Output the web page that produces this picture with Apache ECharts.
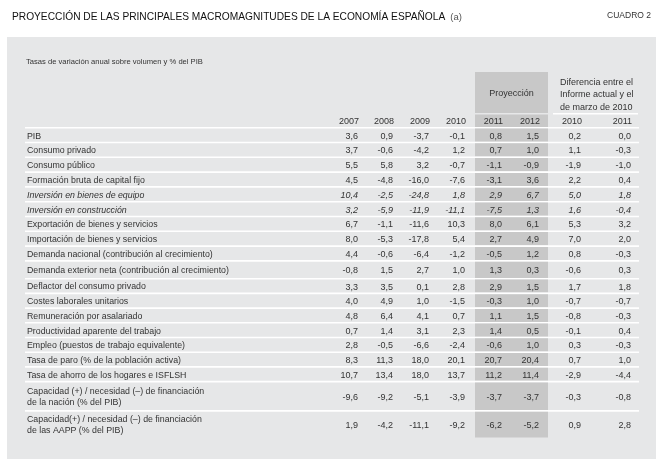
<!DOCTYPE html>
<html><head><meta charset="utf-8">
<script src="https://cdn.jsdelivr.net/npm/echarts@6/dist/echarts.min.js"></script>
<style>html,body{margin:0;padding:0;background:#fff}#c{width:656px;height:459px}</style>
</head><body><div id="c"></div>
<script>
// ---------------- DATA ----------------
const rowLabels = [
  'PIB',
  'Consumo privado',
  'Consumo público',
  'Formación bruta de capital fijo',
  'Inversión en bienes de equipo',
  'Inversión en construcción',
  'Exportación de bienes y servicios',
  'Importación de bienes y servicios',
  'Demanda nacional (contribución al crecimiento)',
  'Demanda exterior neta (contribución al crecimiento)',
  'Deflactor del consumo privado',
  'Costes laborales unitarios',
  'Remuneración por asalariado',
  'Productividad aparente del trabajo',
  'Empleo (puestos de trabajo equivalente)',
  'Tasa de paro (% de la población activa)',
  'Tasa de ahorro de los hogares e ISFLSH',
  'Capacidad (+) / necesidad (–) de financiación\nde la nación (% del PIB)',
  'Capacidad(+) / necesidad (–) de financiación\nde las AAPP (% del PIB)'
];
const italicRows = [4, 5];
const yearLabels = ['2007', '2008', '2009', '2010', '2011', '2012', '2010', '2011'];
const v2007 = [3.6, 3.7, 5.5, 4.5, 10.4, 3.2, 6.7, 8.0, 4.4, -0.8, 3.3, 4.0, 4.8, 0.7, 2.8, 8.3, 10.7, -9.6, 1.9];
const v2008 = [0.9, -0.6, 5.8, -4.8, -2.5, -5.9, -1.1, -5.3, -0.6, 1.5, 3.5, 4.9, 6.4, 1.4, -0.5, 11.3, 13.4, -9.2, -4.2];
const v2009 = [-3.7, -4.2, 3.2, -16.0, -24.8, -11.9, -11.6, -17.8, -6.4, 2.7, 0.1, 1.0, 4.1, 3.1, -6.6, 18.0, 18.0, -5.1, -11.1];
const v2010 = [-0.1, 1.2, -0.7, -7.6, 1.8, -11.1, 10.3, 5.4, -1.2, 1.0, 2.8, -1.5, 0.7, 2.3, -2.4, 20.1, 13.7, -3.9, -9.2];
const v2011 = [0.8, 0.7, -1.1, -3.1, 2.9, -7.5, 8.0, 2.7, -0.5, 1.3, 2.9, -0.3, 1.1, 1.4, -0.6, 20.7, 11.2, -3.7, -6.2];
const v2012 = [1.5, 1.0, -0.9, 3.6, 6.7, 1.3, 6.1, 4.9, 1.2, 0.3, 1.5, 1.0, 1.5, 0.5, 1.0, 20.4, 11.4, -3.7, -5.2];
const dif2010 = [0.2, 1.1, -1.9, 2.2, 5.0, 1.6, 5.3, 7.0, 0.8, -0.6, 1.7, -0.7, -0.8, -0.1, 0.3, 0.7, -2.9, -0.3, 0.9];
const dif2011 = [0.0, -0.3, -1.0, 0.4, 1.8, -0.4, 3.2, 2.0, -0.3, 0.3, 1.8, -0.7, -0.3, 0.4, -0.3, 1.0, -4.4, -0.8, 2.8];

const titleText = 'PROYECCIÓN DE LAS PRINCIPALES MACROMAGNITUDES DE LA ECONOMÍA ESPAÑOLA';
const titleNote = '(a)';
const boxLabel = 'CUADRO 2';
const unitsText = 'Tasas de variación anual sobre volumen y % del PIB';
const projLabel = 'Proyección';
const diffLabel = 'Diferencia entre el\nInforme actual y el\nde marzo de 2010';

// ---------------- LAYOUT / STYLE ----------------
const FONT = '"Liberation Sans", Arial, Helvetica, sans-serif';
const TXT = '#333333';
const PANEL = '#e6e7e8';
const SHADE = '#c8c8c8';
const SEP = 1.6;
const TABLE_W = 614;          // x-axis units (table width)
const TABLE_H = 365.5;        // y-axis units (table height)
const colRight = [333, 368, 404, 440, 477, 514, 556, 606];
const labelX = 2;
const shadeX = [450, 523];
const diffLine = [528, 613];
const headerProjH = 41;       // Proyección box height
const yearTop = 42.5, yearBottom = 55, headLineBottom = 56.5;
const rowHeights = [14.8,14.8,14.8,14.8,14.8,14.8,14.8,14.8,14.8,17.8,14.7,14.7,14.7,14.7,14.7,14.7,14.7,29.3,25.7];
const rowTop = [];
rowHeights.reduce((acc, h, i) => { rowTop[i] = acc; return acc + h; }, headLineBottom);

const cols = [v2007, v2008, v2009, v2010, v2011, v2012, dif2010, dif2011];
function fmt(v) { return v.toFixed(1).replace('.', ','); }

function rectFrom(api, x0, y0, x1, y1, fill) {
  const a = api.coord([x0, y0]), b = api.coord([x1, y1]);
  return { type: 'rect', shape: { x: a[0], y: a[1], width: b[0] - a[0], height: b[1] - a[1] }, style: { fill: fill } };
}
function textAt(api, x, y, text, extra) {
  const p = api.coord([x, y]);
  return { type: 'text', style: Object.assign({ x: p[0], y: p[1], text: text, fill: TXT, fontFamily: FONT, fontSize: 8.8, align: 'right', verticalAlign: 'middle' }, extra || {}) };
}

const chart = echarts.init(document.getElementById('c'), null, { renderer: 'canvas' });
chart.setOption({
  animation: false,
  backgroundColor: '#ffffff',
  title: {
    left: 7, top: 3,
    text: '{b|' + titleText + '} {a|' + titleNote + '}',
    textStyle: { rich: {
      b: { fontFamily: FONT, fontSize: 10.2, color: '#111', fontWeight: 'normal' },
      a: { fontFamily: FONT, fontSize: 9.5, color: '#555', fontWeight: 'normal' }
    } }
  },
  graphic: [
    { type: 'rect', z: 0, shape: { x: 7, y: 37, width: 649, height: 422 }, style: { fill: PANEL } },
    { type: 'text', z: 1, style: { x: 651, y: 16, text: boxLabel, fill: '#333', fontFamily: FONT, fontSize: 8.5, align: 'right', verticalAlign: 'middle' } },
    { type: 'text', z: 1, style: { x: 26, y: 62, text: unitsText, fill: '#333', fontFamily: FONT, fontSize: 7.6, align: 'left', verticalAlign: 'middle' } }
  ],
  grid: { left: 25, right: 17, top: 72, bottom: 459 - 72 - TABLE_H, containLabel: false },
  xAxis: { type: 'value', min: 0, max: TABLE_W, show: false },
  yAxis: { type: 'value', min: 0, max: TABLE_H, inverse: true, show: false },
  series: [
    {
      type: 'custom', z: 3, silent: true,
      data: [[0, 0]],
      renderItem: function (params, api) {
        const ch = [];
        ch.push(rectFrom(api, shadeX[0], 0, shadeX[1], headerProjH, SHADE));
        ch.push(rectFrom(api, shadeX[0], yearTop, shadeX[1], yearBottom, SHADE));
        ch.push(rectFrom(api, diffLine[0], headerProjH, diffLine[1], yearTop, '#ffffff'));
        ch.push(rectFrom(api, 0, yearBottom, TABLE_W, headLineBottom, '#ffffff'));
        ch.push(textAt(api, (shadeX[0] + shadeX[1]) / 2, 22, projLabel, { align: 'center', fontSize: 9 }));
        ch.push(textAt(api, 535, 23, diffLabel, { align: 'left', lineHeight: 12.3, fontSize: 9 }));
        yearLabels.forEach((y, j) => ch.push(textAt(api, colRight[j] + 1, 49.5, y, { fontSize: 9 })));
        return { type: 'group', children: ch };
      }
    },
    {
      type: 'custom', z: 3, silent: true,
      data: rowLabels.map((l, i) => [i, i]),
      renderItem: function (params, api) {
        const i = params.dataIndex;
        const top = rowTop[i], h = rowHeights[i];
        const last = i === rowLabels.length - 1;
        const sep = last ? 0 : SEP;
        const mid = top + (h - sep) / 2 + 1;
        const ital = italicRows.indexOf(i) >= 0 ? 'italic' : 'normal';
        const ch = [];
        ch.push(rectFrom(api, shadeX[0], top, shadeX[1], top + h - sep, SHADE));
        if (!last) ch.push(rectFrom(api, 0, top + h - sep, TABLE_W, top + h, '#ffffff'));
        ch.push(textAt(api, labelX, mid, rowLabels[i], { align: 'left', fontStyle: ital, lineHeight: 11 }));
        cols.forEach((c, j) => ch.push(textAt(api, colRight[j], mid, fmt(c[i]), { fontStyle: ital, fontSize: 9 })));
        return { type: 'group', children: ch };
      }
    }
  ]
});
</script>
</body></html>
